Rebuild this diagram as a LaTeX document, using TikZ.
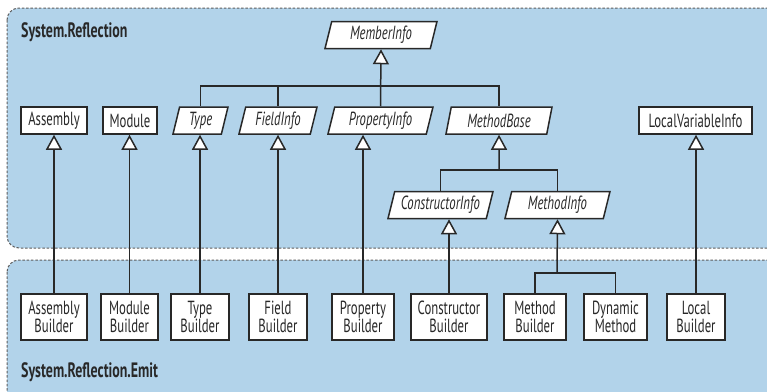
\documentclass[tikz,border=0pt]{standalone}
\usepackage{fontspec}
\setmainfont[FakeStretch=0.67]{PT Sans}
\usetikzlibrary{shapes.geometric,arrows.meta}
\definecolor{panelblue}{RGB}{178,211,234}
\definecolor{inkgray}{RGB}{40,40,40}
\newcommand{\boxfont}{\fontsize{19}{18}\selectfont}
\newcommand{\pkgfont}{\fontsize{20.8}{22}\selectfont\bfseries}

\begin{document}
\begin{tikzpicture}[x=1pt,y=-1pt,
	panel/.style={fill=panelblue, draw=inkgray!75, dash pattern=on 2.5pt off 1.8pt, line width=1pt, rounded corners=12pt},
	cls/.style={draw=inkgray, fill=white, line width=1.5pt, font=\boxfont, text=inkgray, inner sep=0pt, minimum height=27pt, minimum width=#1},
	abs/.style={trapezium, trapezium left angle=69, trapezium right angle=111, trapezium stretches body, draw=inkgray, fill=white, line width=1.5pt, font=\boxfont\itshape, text=inkgray, inner sep=0pt, minimum height=27pt, minimum width=#1},
	bld/.style={cls=#1, minimum height=46pt, align=center},
	link/.style={draw=inkgray, line width=1.5pt},
	inh/.style={link, -{Triangle[open, fill=white, width=16pt, length=15pt]}},
	pkg/.style={font=\pkgfont, text=inkgray, anchor=west, inner sep=0pt}]
\useasboundingbox (0,0) rectangle (767,391);
\clip (0,0) rectangle (767,391);
% the two namespaces
\draw[panel] (7,8) rectangle (785,248);
\draw[panel] (7,260) rectangle (785,410);
\node[pkg] (refl) at (21,32) {System.Reflection};
\node[pkg] (emit) at (21,372) {System.Reflection.Emit};
%
\node[abs=112pt] (member) at (381,35) {MemberInfo};
\node[cls=66pt] (asm) at (54,120.5) {Assembly};
\node[cls=54pt] (mod) at (130,120.5) {Module};
\node[abs=55pt] (type) at (200.5,120.5) {Type};
\node[abs=78pt] (field) at (278,120.5) {FieldInfo};
\node[abs=105pt] (prop) at (380.5,120.5) {PropertyInfo};
\node[abs=106pt] (mbase) at (499,120.5) {MethodBase};
\node[cls=113pt] (lvi) at (695.5,120.5) {LocalVariableInfo};
\node[abs=105pt] (cinfo) at (440.5,205) {ConstructorInfo};
\node[abs=105pt] (minfo) at (557.5,205) {MethodInfo};
%
\node[bld=66pt] (asmb) at (54,317) {Assembly\\Builder};
\node[bld=57pt] (modb) at (129.5,317) {Module\\Builder};
\node[bld=58pt] (typeb) at (200,317) {Type\\Builder};
\node[bld=58pt] (fieldb) at (278,317) {Field\\Builder};
\node[bld=62pt] (propb) at (363,317) {Property\\Builder};
\node[bld=76pt] (ctorb) at (449,317) {Constructor\\Builder};
\node[bld=62pt] (methb) at (535,317) {Method\\Builder};
\node[bld=63pt] (dynm) at (615.5,317) {Dynamic\\Method};
\node[bld=58pt] (locb) at (696,317) {Local\\Builder};
%
\coordinate (bar1) at (381,86);
\coordinate (bar2) at (499,170);
\coordinate (bar3) at (557,273);
\draw[link] (type.north) |- (bar1) -| (mbase.north);
\draw[link] (field.north) -- (field.north |- bar1);
\draw[inh] (prop.north) -- (member.south);
\draw[link] (cinfo.north) |- (bar2) -| (minfo.north);
\draw[inh] (bar2) -- (mbase.south);
\draw[link] (methb.north) |- (bar3) -| (dynm.north);
\draw[inh] (bar3) -- (minfo.south);
%
\draw[inh] (asmb.north) -- (asm.south);
\draw[inh] (modb.north) -- (modb.north |- mod.south);
\draw[inh] (typeb.north) -- (typeb.north |- type.south);
\draw[inh] (fieldb.north) -- (fieldb.north |- field.south);
\draw[inh] (propb.north) -- (propb.north |- prop.south);
\draw[inh] (ctorb.north) -- (ctorb.north |- cinfo.south);
\draw[inh] (locb.north) -- (locb.north |- lvi.south);
\end{tikzpicture}
\end{document}
